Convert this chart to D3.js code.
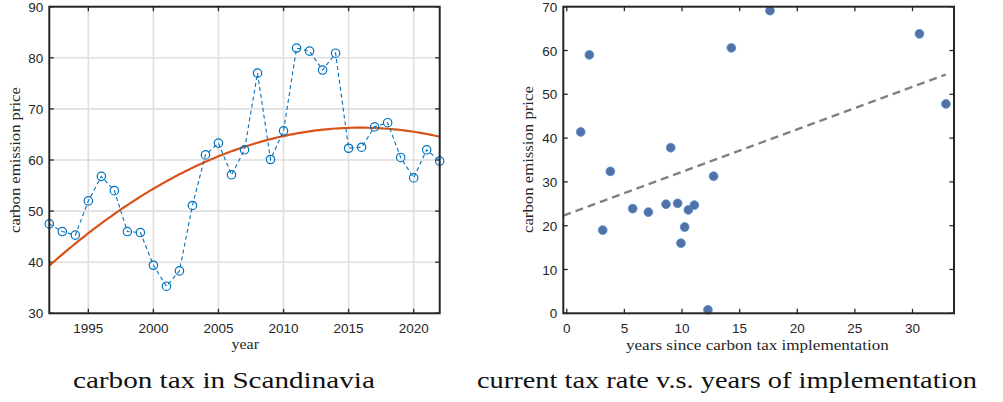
<!DOCTYPE html>
<html>
<head>
<meta charset="utf-8">
<script src="https://cdn.jsdelivr.net/npm/d3@7"></script>
<style>
  html, body { margin: 0; padding: 0; background: #fff; }
  svg { display: block; }
</style>
</head>
<body>
<svg id="chart" width="1003" height="402"></svg>
<script>
// ---- carbon tax in Scandinavia: yearly price ----
const years = d3.range(1992, 2023);
const prices = [47.5, 46.0, 45.3, 52.0, 56.8, 54.0, 46.0, 45.8, 39.4, 35.3,
                38.3, 51.1, 61.0, 63.3, 57.1, 62.0, 77.0, 60.1, 65.7, 81.9,
                81.3, 77.6, 80.9, 62.3, 62.5, 66.5, 67.3, 60.5, 56.5, 62.0, 59.8];
const yearTicks = [1995, 2000, 2005, 2010, 2015, 2020];
const priceTicks = [30, 40, 50, 60, 70, 80, 90];

// ---- current rate vs. years since implementation ----
const yearsSince = [1.21, 1.96, 3.12, 3.78, 5.72, 7.08, 8.61, 9.02, 9.62, 9.91,
                    10.23, 10.55, 11.07, 12.25, 12.74, 14.28, 17.63, 30.6, 32.9];
const currentRate = [41.4, 59.0, 19.0, 32.4, 23.9, 23.1, 24.9, 37.8, 25.1, 16.0,
                     19.7, 23.6, 24.7, 0.8, 31.3, 60.6, 69.1, 63.8, 47.8];
const sinceTicks = [0, 5, 10, 15, 20, 25, 30];
const rateTicks = [0, 10, 20, 30, 40, 50, 60, 70];
// trend line (intercept, slope)
const trendIntercept = 22.6;
const trendSlope = 0.97;

const titles = ["carbon tax in Scandinavia", "current tax rate v.s. years of implementation"];

const svg = d3.select("#chart");
const AX = "#262626";
const SANS = "'Liberation Sans', Arial, Helvetica, sans-serif";
const SERIF = "'Liberation Serif', 'Times New Roman', serif";

// serif label placed at (x, y), left edge, widened horizontally to `width`
function serifLabel(parent, x, y, str, size, width, rotate, fill) {
  const g = parent.append("g");
  const t = g.append("text").attr("font-family", SERIF).attr("font-size", size)
    .attr("fill", fill || AX).text(str);
  const sx = width / t.node().getComputedTextLength();
  g.attr("transform", `translate(${x},${y})` + (rotate ? " rotate(-90)" : "") + ` scale(${sx},1)`);
  return g;
}

// least-squares quadratic fit
function quadFit(xs, ys, x0) {
  let S = [[0,0,0],[0,0,0],[0,0,0]], B = [0,0,0];
  xs.forEach((x, i) => {
    const t = x - x0, p = [1, t, t * t];
    for (let r = 0; r < 3; r++) {
      B[r] += p[r] * ys[i];
      for (let c = 0; c < 3; c++) S[r][c] += p[r] * p[c];
    }
  });
  const M = S.map((row, i) => row.concat([B[i]]));
  for (let i = 0; i < 3; i++) {
    let mx = i;
    for (let k = i + 1; k < 3; k++) if (Math.abs(M[k][i]) > Math.abs(M[mx][i])) mx = k;
    [M[i], M[mx]] = [M[mx], M[i]];
    for (let k = i + 1; k < 3; k++) {
      const f = M[k][i] / M[i][i];
      for (let j = i; j < 4; j++) M[k][j] -= f * M[i][j];
    }
  }
  const c = [0,0,0];
  for (let i = 2; i >= 0; i--) {
    let s = M[i][3];
    for (let j = i + 1; j < 3; j++) s -= M[i][j] * c[j];
    c[i] = s / M[i][i];
  }
  return x => { const t = x - x0; return c[0] + c[1] * t + c[2] * t * t; };
}

function drawFrame(g, x, y, xt, yt, fmtX, grid) {
  const [x0, x1] = x.range(), [y0, y1] = y.range();
  if (grid) {
    g.append("g").selectAll("line.gx").data(xt).join("line")
      .attr("x1", d => x(d)).attr("x2", d => x(d)).attr("y1", y0).attr("y2", y1)
      .attr("stroke", "#dfdfdf").attr("stroke-width", 1.6);
    g.append("g").selectAll("line.gy").data(yt).join("line")
      .attr("y1", d => y(d)).attr("y2", d => y(d)).attr("x1", x0).attr("x2", x1)
      .attr("stroke", "#dfdfdf").attr("stroke-width", 1.6);
  }
  const tk = 4.5;
  const ticks = g.append("g").attr("stroke", AX).attr("stroke-width", 1.3);
  xt.forEach(d => {
    ticks.append("line").attr("x1", x(d)).attr("x2", x(d)).attr("y1", y0).attr("y2", y0 - tk);
    ticks.append("line").attr("x1", x(d)).attr("x2", x(d)).attr("y1", y1).attr("y2", y1 + tk);
  });
  yt.forEach(d => {
    ticks.append("line").attr("y1", y(d)).attr("y2", y(d)).attr("x1", x0).attr("x2", x0 + tk);
    ticks.append("line").attr("y1", y(d)).attr("y2", y(d)).attr("x1", x1).attr("x2", x1 - tk);
  });
  g.append("g").selectAll("text").data(xt).join("text")
    .attr("x", d => x(d)).attr("y", y0 + 20)
    .attr("text-anchor", "middle").attr("font-family", SANS).attr("font-size", 13.5)
    .attr("fill", AX).text(fmtX);
  g.append("g").selectAll("text").data(yt).join("text")
    .attr("x", x0 - 6).attr("y", d => y(d) + 5)
    .attr("text-anchor", "end").attr("font-family", SANS).attr("font-size", 13.5)
    .attr("fill", AX).text(d => d);
}

function drawBox(g, x, y) {
  const [x0, x1] = x.range(), [y0, y1] = y.range();
  g.append("rect").attr("x", x0).attr("y", y1).attr("width", x1 - x0).attr("height", y0 - y1)
    .attr("fill", "none").attr("stroke", AX).attr("stroke-width", 2);
}

// ================= left panel =================
const xL = d3.scaleLinear().domain([1992, 2022]).range([49.3, 439.7]);
const yL = d3.scaleLinear().domain([30, 90]).range([313.3, 6.7]);
const gL = svg.append("g");
drawFrame(gL, xL, yL, yearTicks, priceTicks, d => d, true);

svg.append("defs").append("clipPath").attr("id", "clipL")
  .append("rect").attr("x", 49.3).attr("y", 6.7).attr("width", 390.4).attr("height", 306.6);

const fitL = quadFit(years, prices, 2007);
const fineYears = d3.range(1992, 2022.01, 0.25);
gL.append("path")
  .attr("clip-path", "url(#clipL)")
  .attr("d", d3.line().x(d => xL(d)).y(d => yL(fitL(d)))(fineYears))
  .attr("fill", "none").attr("stroke", "#D95319").attr("stroke-width", 2.2);

gL.append("path")
  .attr("d", d3.line().x((d, i) => xL(years[i])).y(d => yL(d))(prices))
  .attr("fill", "none").attr("stroke", "#0072BD").attr("stroke-width", 1.1)
  .attr("stroke-dasharray", "4,3");

gL.append("g").selectAll("circle").data(prices).join("circle")
  .attr("cx", (d, i) => xL(years[i])).attr("cy", d => yL(d)).attr("r", 4.2)
  .attr("fill", "none").attr("stroke", "#0072BD").attr("stroke-width", 1.2);

drawBox(gL, xL, yL);

serifLabel(gL, 231.5, 349, "year", 14, 27.5, false);
serifLabel(gL, 20, 233, "carbon emission price", 14, 146, true);

// ================= right panel =================
const xR = d3.scaleLinear().domain([-0.3, 33.6]).range([563.3, 954]);
const yR = d3.scaleLinear().domain([0, 70]).range([313.3, 6.7]);
const gR = svg.append("g");
drawFrame(gR, xR, yR, sinceTicks, rateTicks, d => d, false);

svg.select("defs").append("clipPath").attr("id", "clipR")
  .append("rect").attr("x", 563.3).attr("y", 6.7).attr("width", 390.7).attr("height", 306.6);

const trendX = [xR.domain()[0], d3.max(yearsSince)];
gR.append("path")
  .attr("clip-path", "url(#clipR)")
  .attr("d", d3.line().x(d => xR(d)).y(d => yR(trendIntercept + trendSlope * d))(trendX))
  .attr("fill", "none").attr("stroke", "#808080").attr("stroke-width", 2.3)
  .attr("stroke-dasharray", "8,5");

gR.append("g").selectAll("circle").data(currentRate).join("circle")
  .attr("cx", (d, i) => xR(yearsSince[i])).attr("cy", d => yR(d)).attr("r", 4.4)
  .attr("fill", "#5272a6").attr("stroke", "#4a8ed2").attr("stroke-width", 0.8);

drawBox(gR, xR, yR);

serifLabel(gR, 626, 350, "years since carbon tax implementation", 14, 263, false);
serifLabel(gR, 533, 233, "carbon emission price", 14, 147, true);

// ================= panel titles =================
serifLabel(svg, 73, 388, titles[0], 24, 302, false, "#111");
serifLabel(svg, 477, 388, titles[1], 24, 500, false, "#111");
</script>
</body>
</html>
